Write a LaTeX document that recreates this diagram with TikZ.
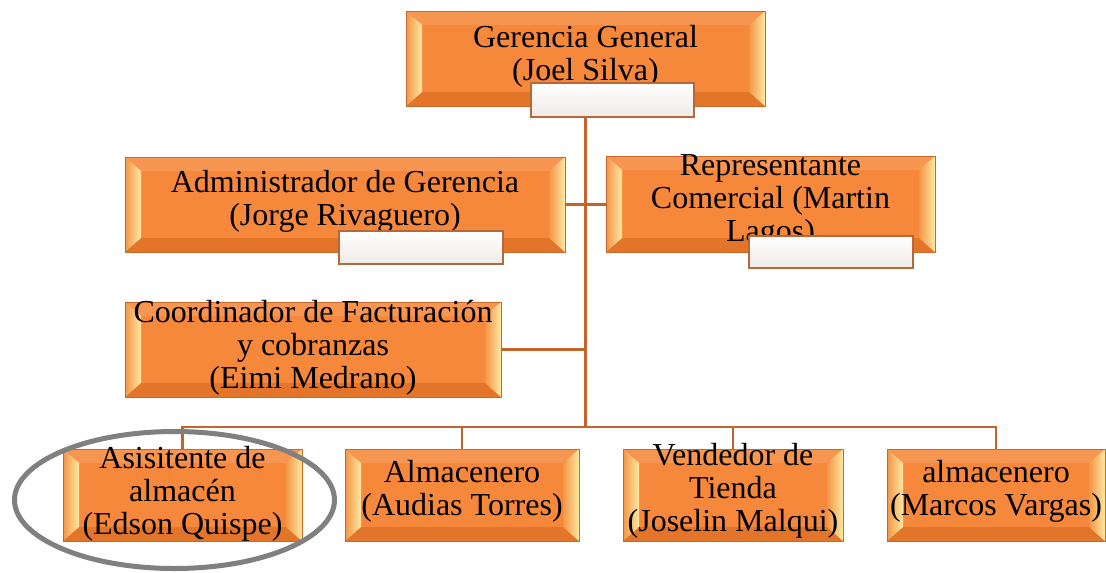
\documentclass[tikz,border=0pt]{standalone}
\usepackage{fontspec}
\setmainfont{Liberation Serif}
\definecolor{obody}{HTML}{F5883B}
\definecolor{oedge}{HTML}{C9682A}
\definecolor{otop}{HTML}{F79650}
\definecolor{obot}{HTML}{E2752A}
\definecolor{lyel}{HTML}{FFE8A3}
\definecolor{lorg}{HTML}{F39545}
\definecolor{connc}{HTML}{C3652A}
\definecolor{wedge}{HTML}{B5683A}
\definecolor{wbot}{HTML}{EFEAE6}
\definecolor{ringc}{HTML}{808080}
\tikzset{
  obox/.style={draw=oedge, line width=0.8pt, fill=obody, inner sep=0pt,
    path picture={
      \fill[otop] (path picture bounding box.north west) -- (path picture bounding box.north east)
        -- ([xshift=-16pt,yshift=-14pt]path picture bounding box.north east)
        -- ([xshift=16pt,yshift=-14pt]path picture bounding box.north west) -- cycle;
      \fill[obot] (path picture bounding box.south west) -- (path picture bounding box.south east)
        -- ([xshift=-16pt,yshift=14pt]path picture bounding box.south east)
        -- ([xshift=16pt,yshift=14pt]path picture bounding box.south west) -- cycle;
      \shade[left color=lorg, right color=lyel] (path picture bounding box.north west)
        -- ([xshift=16pt,yshift=-14pt]path picture bounding box.north west)
        -- ([xshift=16pt,yshift=14pt]path picture bounding box.south west)
        -- (path picture bounding box.south west) -- cycle;
      \shade[left color=lorg, right color=lyel] (path picture bounding box.north east)
        -- ([xshift=-16pt,yshift=-14pt]path picture bounding box.north east)
        -- ([xshift=-16pt,yshift=14pt]path picture bounding box.south east)
        -- (path picture bounding box.south east) -- cycle;
    }},
  wbox/.style={draw=wedge, line width=1.4pt, top color=white, bottom color=wbot, inner sep=0pt},
  txt/.style={align=center, inner sep=0pt, font=\fontsize{32}{33}\selectfont},
  conn/.style={draw=connc, line width=2.6pt},
  ring/.style={draw=ringc, line width=5pt},
}
\begin{document}
\begin{tikzpicture}[x=1pt,y=-1pt]
\useasboundingbox (0,0) rectangle (1106,573);
\fill[white] (0,0) rectangle (1106,573);
% boxes
\node[obox, minimum width=359pt, minimum height=95pt] (g) at (585.5,58.5) {};
\node[obox, minimum width=440pt, minimum height=95pt] (a) at (345,204.5) {};
\node[obox, minimum width=329pt, minimum height=96pt] (r) at (770.5,204) {};
\node[obox, minimum width=376pt, minimum height=95pt] (c) at (313,349.5) {};
\node[obox, minimum width=239pt, minimum height=92pt] (b1) at (182.5,495) {};
\node[obox, minimum width=234pt, minimum height=92pt] (b2) at (462,495) {};
\node[obox, minimum width=220pt, minimum height=92pt] (b3) at (733,495) {};
\node[obox, minimum width=218pt, minimum height=92pt] (b4) at (996,495) {};
% texts
\node[txt] (gt) at (585.5,56) {Gerencia General\\(Joel Silva)};
\node[txt] (at) at (345,201) {Administrador de Gerencia\\(Jorge Rivaguero)};
\node[txt] (rt) at (770.5,201) {Representante\\Comercial (Martin\\Lagos)};
\node[txt] (ct) at (313,348) {Coordinador de Facturación\\y cobranzas\\(Eimi Medrano)};
\node[txt] (b1t) at (182.5,494) {Asisitente de\\almacén\\(Edson Quispe)};
\node[txt] (b2t) at (462,491) {Almacenero\\(Audias Torres)};
\node[txt] (b3t) at (733,491) {Vendedor de\\Tienda\\(Joselin Malqui)};
\node[txt] (b4t) at (996,491) {almacenero\\(Marcos Vargas)};
% white tabs
\node[wbox, minimum width=163pt, minimum height=34pt] (gw) at (612.5,100) {};
\node[wbox, minimum width=164pt, minimum height=33pt] (aw) at (421,247.5) {};
\node[wbox, minimum width=164pt, minimum height=32pt] (rw) at (831,252) {};
% connectors
\coordinate (bus) at (585.5,427);
\draw[conn] (gw.south -| g.south) -- (g.south |- bus);
\draw[conn] (a.east) -- (a.east -| r.west);
\draw[conn] (c.east) -- (c.east -| g.south);
\draw[conn] (b1.north) |- (bus) -| (b4.north);
\draw[conn] (b2.north) -- (b2.north |- bus);
\draw[conn] (b3.north) -- (b3.north |- bus);
% highlight ring
\draw[ring] (174.5,500) ellipse [x radius=160, y radius=68.5];
\end{tikzpicture}
\end{document}
